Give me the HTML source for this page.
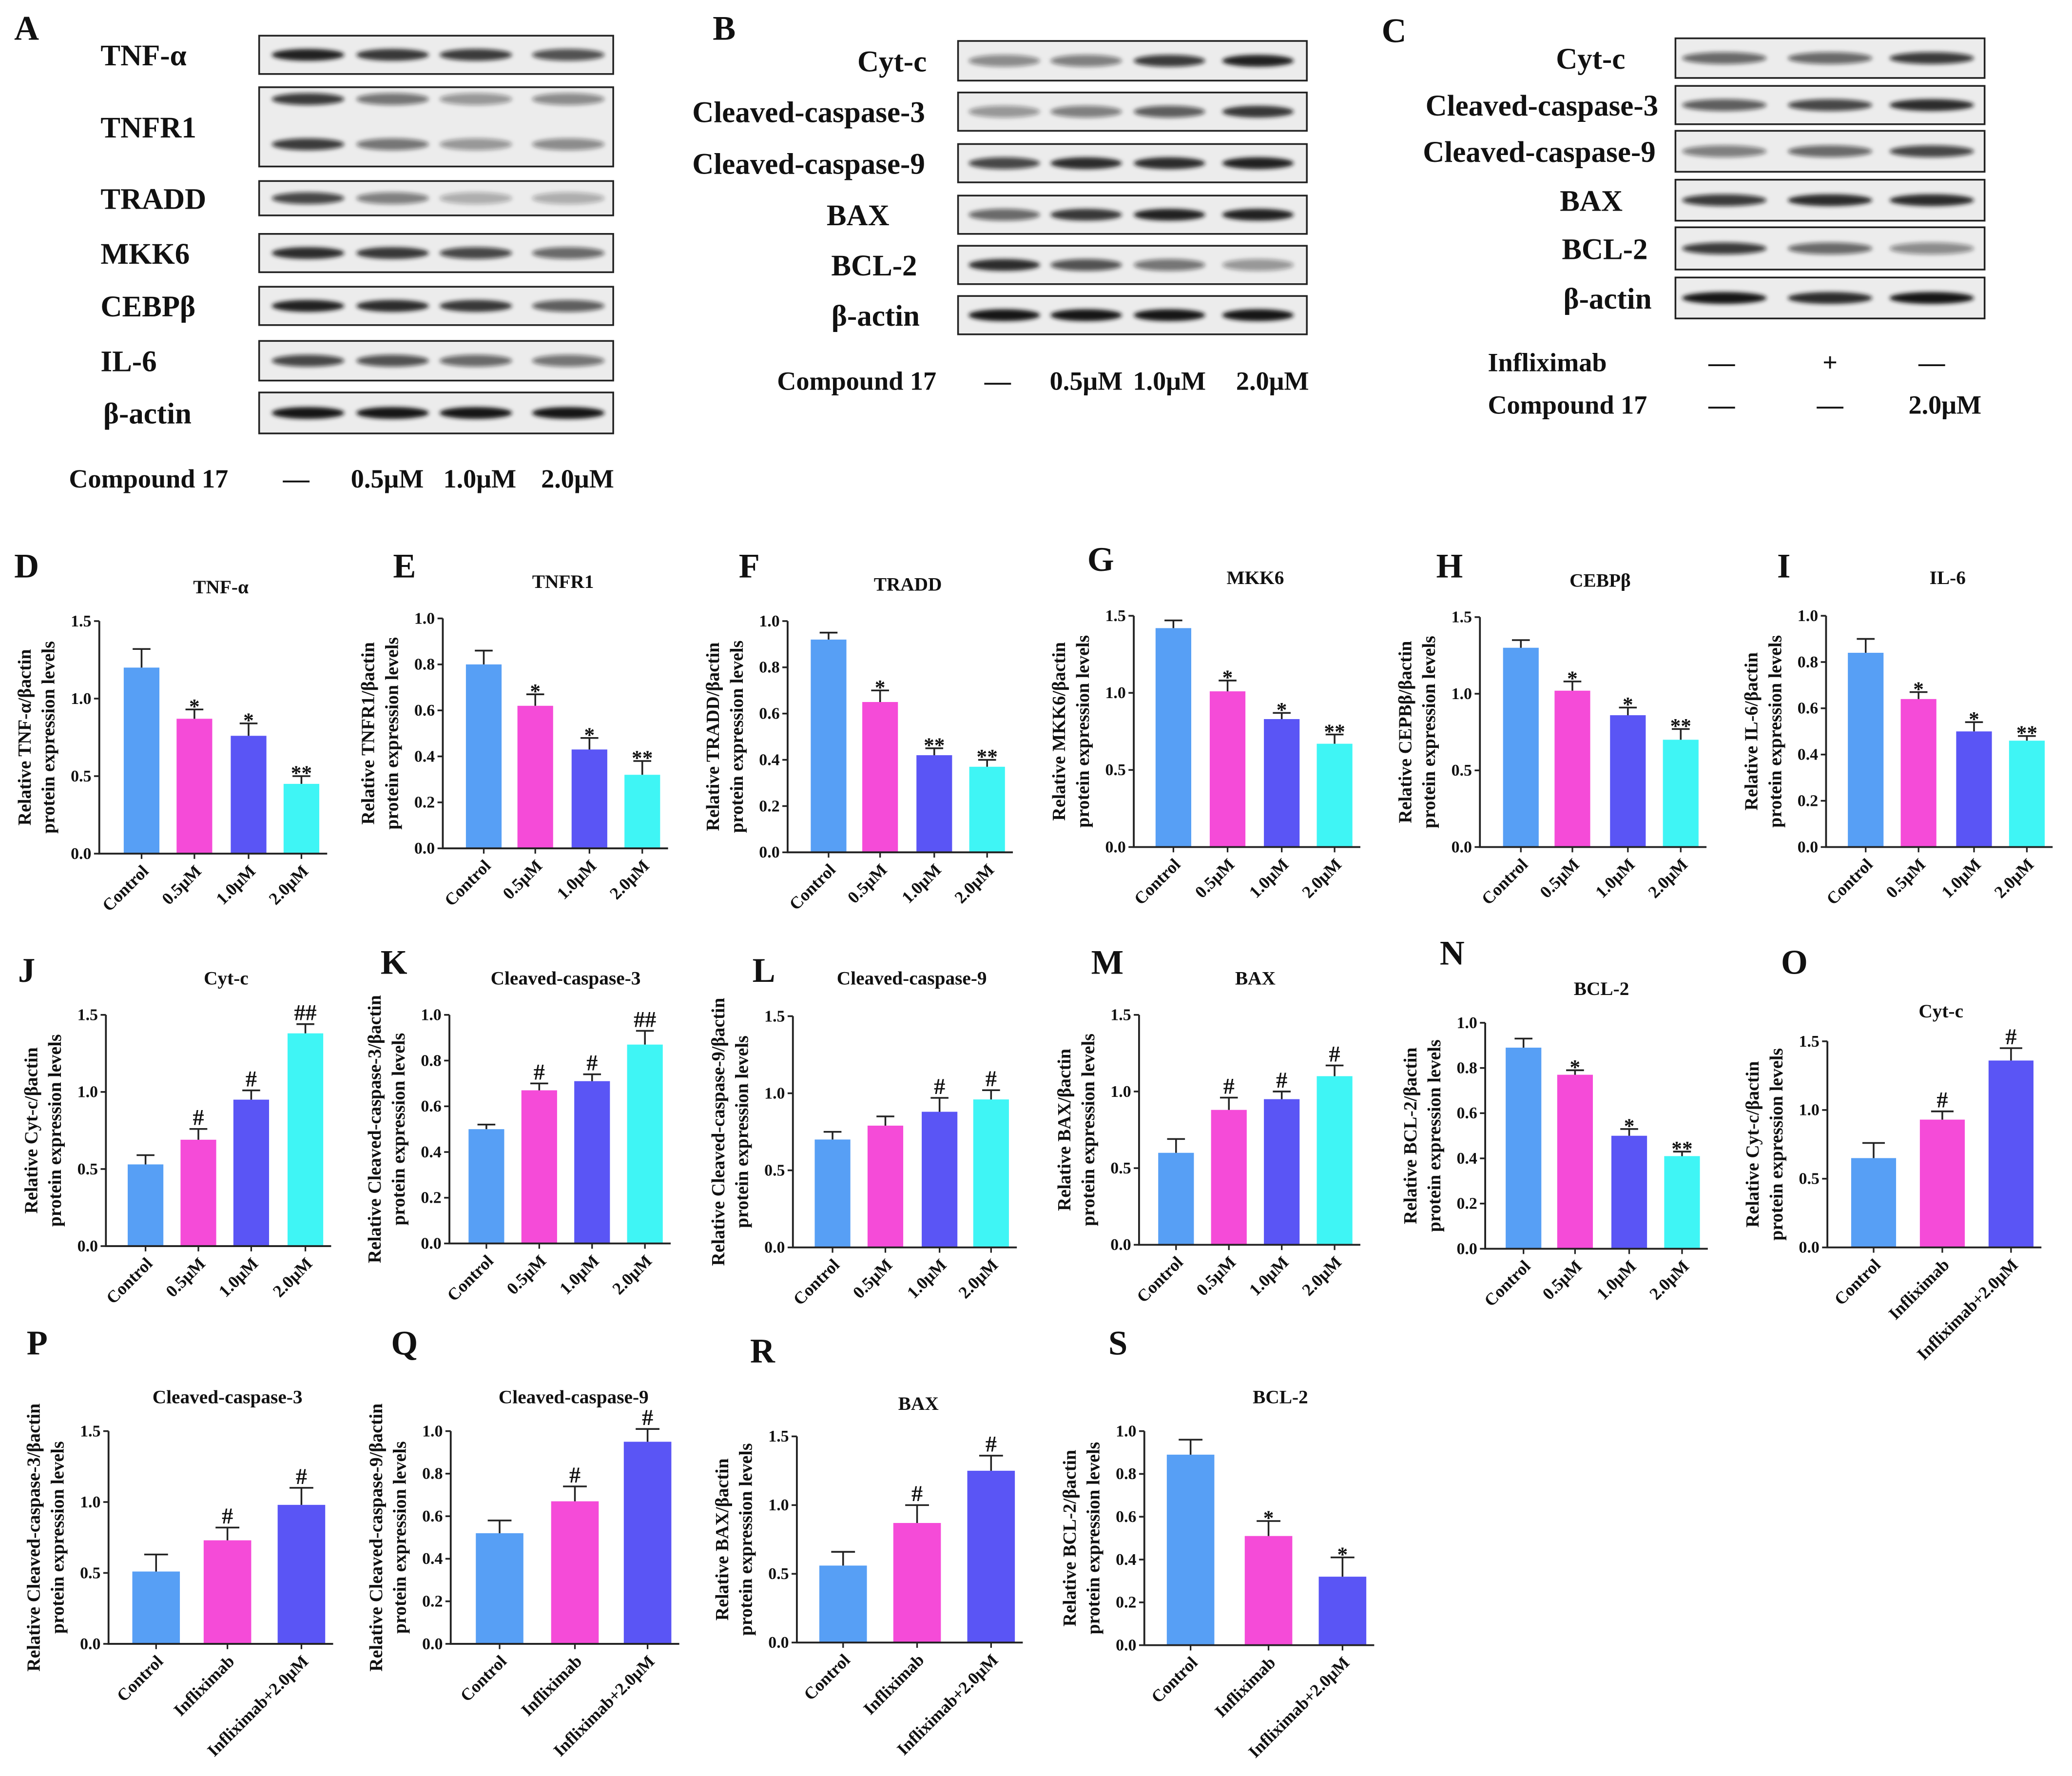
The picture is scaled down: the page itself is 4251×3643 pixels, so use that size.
<!DOCTYPE html>
<html><head><meta charset="utf-8">
<style>
html,body{margin:0;padding:0;background:#fff;}
svg{display:block;}
text{font-family:"Liberation Serif",serif;font-weight:bold;fill:#111;}
</style></head>
<body>
<svg id="fig" xmlns="http://www.w3.org/2000/svg" width="4251" height="3643" viewBox="0 0 1568 1344">
<defs>
<filter id="blur" x="-20%" y="-100%" width="140%" height="300%"><feGaussianBlur stdDeviation="1.6"/></filter>
</defs>
<rect width="1568" height="1344" fill="#fff"/>
<g id="blots"></g>
<g id="charts"></g>
</svg>
<script>
// ---------- chart data ----------
const catsDose = ["Control","0.5μM","1.0μM","2.0μM"];
const catsInf = ["Control","Infliximab","Infliximab+2.0μM"];
const ticks15 = [0,0.5,1.0,1.5];
const ticks10 = [0,0.2,0.4,0.6,0.8,1.0];

const valsD = [1.20,0.87,0.76,0.45]; const errD = [0.12,0.06,0.08,0.05]; const sigD = ["","*","*","**"];
const valsE = [0.80,0.62,0.43,0.32]; const errE = [0.06,0.05,0.05,0.06]; const sigE = ["","*","*","**"];
const valsF = [0.92,0.65,0.42,0.37]; const errF = [0.03,0.05,0.03,0.03]; const sigF = ["","*","**","**"];
const valsG = [1.42,1.01,0.83,0.67]; const errG = [0.05,0.07,0.04,0.06]; const sigG = ["","*","*","**"];
const valsH = [1.30,1.02,0.86,0.70]; const errH = [0.05,0.06,0.05,0.07]; const sigH = ["","*","*","**"];
const valsI = [0.84,0.64,0.50,0.46]; const errI = [0.06,0.03,0.04,0.02]; const sigI = ["","*","*","**"];
const valsJ = [0.53,0.69,0.95,1.38]; const errJ = [0.06,0.07,0.06,0.06]; const sigJ = ["","#","#","##"];
const valsK = [0.50,0.67,0.71,0.87]; const errK = [0.02,0.03,0.03,0.06]; const sigK = ["","#","#","##"];
const valsL = [0.70,0.79,0.88,0.96]; const errL = [0.05,0.06,0.09,0.06]; const sigL = ["","","#","#"];
const valsM = [0.60,0.88,0.95,1.10]; const errM = [0.09,0.08,0.05,0.07]; const sigM = ["","#","#","#"];
const valsN = [0.89,0.77,0.50,0.41]; const errN = [0.04,0.02,0.03,0.02]; const sigN = ["","*","*","**"];
const valsO = [0.65,0.93,1.36]; const errO = [0.11,0.06,0.09]; const sigO = ["","#","#"];
const valsP = [0.51,0.73,0.98]; const errP = [0.12,0.09,0.12]; const sigP = ["","#","#"];
const valsQ = [0.52,0.67,0.95]; const errQ = [0.06,0.07,0.06]; const sigQ = ["","#","#"];
const valsR = [0.56,0.87,1.25]; const errR = [0.10,0.13,0.11]; const sigR = ["","#","#"];
const valsS = [0.89,0.51,0.32]; const errS = [0.07,0.07,0.09]; const sigS = ["","*","*"];

const NS="http://www.w3.org/2000/svg";
const colors=["#579ff5","#f54bd8","#5a55f5","#3ff5f5"];
function mk(tag,attrs,parent){const e=document.createElementNS(NS,tag);for(const k in attrs)e.setAttribute(k,attrs[k]);parent.appendChild(e);return e;}
function txt(s,attrs,parent){const e=mk("text",attrs,parent);e.textContent=s;return e;}

const charts=[
 {id:"D",L:[20,427],title:"TNF-α",tp:[167,444],ax:75,bot:646,top:470,max:1.5,ticks:ticks15,cats:catsDose,v:valsD,e:errD,s:sigD,xs:[107,147,188,228],w:27,yl:"Relative TNF-α/βactin"},
 {id:"E",L:[306,427],title:"TNFR1",tp:[426,440],ax:335,bot:642,top:468,max:1.0,ticks:ticks10,cats:catsDose,v:valsE,e:errE,s:sigE,xs:[366,405,446,486],w:27,yl:"Relative TNFR1/βactin"},
 {id:"F",L:[567,427],title:"TRADD",tp:[687,442],ax:596,bot:645,top:470,max:1.0,ticks:ticks10,cats:catsDose,v:valsF,e:errF,s:sigF,xs:[627,666,707,747],w:27,yl:"Relative TRADD/βactin"},
 {id:"G",L:[833,422],title:"MKK6",tp:[950,437],ax:858,bot:641,top:466,max:1.5,ticks:ticks15,cats:catsDose,v:valsG,e:errG,s:sigG,xs:[888,929,970,1010],w:27,yl:"Relative MKK6/βactin"},
 {id:"H",L:[1097,427],title:"CEBPβ",tp:[1211,439],ax:1120,bot:641,top:467,max:1.5,ticks:ticks15,cats:catsDose,v:valsH,e:errH,s:sigH,xs:[1151,1190,1232,1272],w:27,yl:"Relative CEPBβ/βactin"},
 {id:"I",L:[1350,427],title:"IL-6",tp:[1474,437],ax:1382,bot:641,top:466,max:1.0,ticks:ticks10,cats:catsDose,v:valsI,e:errI,s:sigI,xs:[1412,1452,1494,1534],w:27,yl:"Relative IL-6/βactin"},
 {id:"J",L:[20,733],title:"Cyt-c",tp:[171,740],ax:80,bot:943,top:768,max:1.5,ticks:ticks15,cats:catsDose,v:valsJ,e:errJ,s:sigJ,xs:[110,150,190,231],w:27,yl:"Relative Cyt-c/βactin"},
 {id:"K",L:[298,727],title:"Cleaved-caspase-3",tp:[428,740],ax:340,bot:941,top:768,max:1.0,ticks:ticks10,cats:catsDose,v:valsK,e:errK,s:sigK,xs:[368,408,448,488],w:27,yl:"Relative Cleaved-caspase-3/βactin"},
 {id:"L",L:[578,733],title:"Cleaved-caspase-9",tp:[690,740],ax:600,bot:944,top:769,max:1.5,ticks:ticks15,cats:catsDose,v:valsL,e:errL,s:sigL,xs:[630,670,711,750],w:27,yl:"Relative Cleaved-caspase-9/βactin"},
 {id:"M",L:[838,727],title:"BAX",tp:[950,740],ax:862,bot:942,top:768,max:1.5,ticks:ticks15,cats:catsDose,v:valsM,e:errM,s:sigM,xs:[890,930,970,1010],w:27,yl:"Relative BAX/βactin"},
 {id:"N",L:[1099,720],title:"BCL-2",tp:[1212,748],ax:1124,bot:945,top:774,max:1.0,ticks:ticks10,cats:catsDose,v:valsN,e:errN,s:sigN,xs:[1153,1192,1233,1273],w:27,yl:"Relative BCL-2/βactin"},
 {id:"O",L:[1358,727],title:"Cyt-c",tp:[1469,765],ax:1383,bot:944,top:788,max:1.5,ticks:ticks15,cats:catsInf,v:valsO,e:errO,s:sigO,xs:[1418,1470,1522],w:34,yl:"Relative Cyt-c/βactin"},
 {id:"P",L:[28,1015],title:"Cleaved-caspase-3",tp:[172,1057],ax:82,bot:1244,top:1083,max:1.5,ticks:ticks15,cats:catsInf,v:valsP,e:errP,s:sigP,xs:[118,172,228],w:36,yl:"Relative Cleaved-caspase-3/βactin"},
 {id:"Q",L:[306,1015],title:"Cleaved-caspase-9",tp:[434,1057],ax:341,bot:1244,top:1083,max:1.0,ticks:ticks10,cats:catsInf,v:valsQ,e:errQ,s:sigQ,xs:[378,435,490],w:36,yl:"Relative Cleaved-caspase-9/βactin"},
 {id:"R",L:[577,1021],title:"BAX",tp:[695,1062],ax:603,bot:1243,top:1087,max:1.5,ticks:ticks15,cats:catsInf,v:valsR,e:errR,s:sigR,xs:[638,694,750],w:36,yl:"Relative BAX/βactin"},
 {id:"S",L:[846,1015],title:"BCL-2",tp:[969,1057],ax:866,bot:1245,top:1083,max:1.0,ticks:ticks10,cats:catsInf,v:valsS,e:errS,s:sigS,xs:[901,960,1016],w:36,yl:"Relative BCL-2/βactin"}
];

const CG=document.getElementById("charts");
charts.forEach(c=>{
  const g=mk("g",{},CG);
  
  
  const y=v=>c.bot-(v/c.max)*(c.bot-c.top);
  const pl=txt(c.id,{x:c.L[0],y:c.L[1]+10,"font-size":26,"text-anchor":"middle"},g);
  
  
  const t=txt(c.title,{x:c.tp[0],y:c.tp[1]+5,"font-size":14.5,"text-anchor":"middle"},g);
  
  
  const mid=(c.bot+c.top)/2;
  const yl1=txt(c.yl,{x:0,y:0,"font-size":14,"text-anchor":"middle",transform:`translate(${c.ax-52},${mid}) rotate(-90)`},g);
  
  
  const yl2=txt("protein expression levels",{x:0,y:0,"font-size":14,"text-anchor":"middle",transform:`translate(${c.ax-34},${mid}) rotate(-90)`},g);
  
  
  c.v.forEach((v,i)=>{
    const cx=c.xs[i];
    const b=mk("rect",{x:cx-c.w/2,y:y(v),width:c.w,height:c.bot-y(v),fill:colors[i]},g);
    
    
    const ey=y(v+c.e[i]);
    const el=mk("path",{d:`M${cx} ${y(v)}V${ey}M${cx-c.w/4} ${ey}H${cx+c.w/4}`,stroke:"#222","stroke-width":1.3,fill:"none"},g);
    
    
    if(c.s[i]){
      const st=txt(c.s[i],{x:cx,y:ey-3+(c.s[i].includes("*")?6:0),"font-size":c.s[i].includes("*")?16:17,"font-weight":"normal","text-anchor":"middle"},g);
      
      
    }
    const xl=txt(c.cats[i],{x:0,y:0,"font-size":13,"text-anchor":"end",transform:`translate(${cx+6},${c.bot+14}) rotate(-45)`},g);
    
    
  });
  const xEnd=c.xs[c.xs.length-1]+c.w/2+6;
  const axis=mk("path",{d:`M${c.ax} ${c.top}V${c.bot}H${xEnd}`,stroke:"#222","stroke-width":1.4,fill:"none"},g);
  
  
  c.ticks.forEach(tv=>{
    mk("line",{x1:c.ax-4,x2:c.ax,y1:y(tv),y2:y(tv),stroke:"#222","stroke-width":1.3},g);
    const tl=txt(tv.toFixed(1),{x:c.ax-6,y:y(tv)+4,"font-size":12.5,"text-anchor":"end"},g);
    
    
  });
  c.xs.forEach(cx=>mk("line",{x1:cx,x2:cx,y1:c.bot,y2:c.bot+4,stroke:"#222","stroke-width":1.2},g));
});

// ---------- blots ----------
const BG=document.getElementById("blots");
function blot(label,lx,anchor,x0,x1,y0,y1,lanes,ints,rows){
  const g=mk("g",{},BG);
  
  
  mk("rect",{x:x0,y:y0,width:x1-x0,height:y1-y0,fill:"#ececec",stroke:"#222","stroke-width":1.3},g);
  const lw=(x1-x0)/lanes.length*0.82;
  (rows||[0.5]).forEach(r=>{
    lanes.forEach((lc,i)=>{
      const a=ints[i];
      mk("ellipse",{cx:lc,cy:y0+(y1-y0)*r,rx:lw/2,ry:4.5,fill:`rgba(20,20,20,${a})`,filter:"url(#blur)"},g);
    });
  });
  const t=txt(label,{x:lx,y:(y0+y1)/2+8,"font-size":22.5,"text-anchor":anchor},g);
  
  
}
const lA=[233,297,360,430];
blot("TNF-α",76,"start",196,464,27,56,lA,[0.95,0.85,0.8,0.7]);
blot("TNFR1",76,"start",196,464,66,126,lA,[0.8,0.55,0.4,0.45],[0.15,0.72]);
blot("TRADD",76,"start",196,464,137,163,lA,[0.75,0.5,0.3,0.3]);
blot("MKK6",76,"start",196,464,177,206,lA,[0.9,0.85,0.75,0.6]);
blot("CEBPβ",76,"start",196,464,217,246,lA,[0.95,0.9,0.85,0.65]);
blot("IL-6",76,"start",196,464,258,288,lA,[0.75,0.7,0.6,0.55]);
blot("β-actin",78,"start",196,464,297,328,lA,[1,1,1,1]);
const lB=[760,822,885,952];
blot("Cyt-c",675,"middle",725,989,31,61,lB,[0.45,0.5,0.8,0.95]);
blot("Cleaved-caspase-3",700,"end",725,989,70,99,lB,[0.4,0.5,0.65,0.85]);
blot("Cleaved-caspase-9",700,"end",725,989,109,138,lB,[0.75,0.9,0.9,0.95]);
blot("BAX",673,"end",725,989,148,177,lB,[0.6,0.85,0.95,0.95]);
blot("BCL-2",694,"end",725,989,186,215,lB,[0.9,0.7,0.55,0.4]);
blot("β-actin",696,"end",725,989,224,253,lB,[1,1,1,1]);
const lC=[1305,1385,1462];
blot("Cyt-c",1230,"end",1268,1502,29,59,lC,[0.6,0.6,0.8]);
blot("Cleaved-caspase-3",1255,"end",1268,1502,65,94,lC,[0.65,0.75,0.9]);
blot("Cleaved-caspase-9",1253,"end",1268,1502,99,130,lC,[0.5,0.6,0.75]);
blot("BAX",1228,"end",1268,1502,136,167,lC,[0.8,0.9,0.9]);
blot("BCL-2",1247,"end",1268,1502,172,204,lC,[0.8,0.6,0.45]);
blot("β-actin",1250,"end",1268,1502,210,241,lC,[1,0.9,1]);

function label(s,x,y,size,anchor,name){const t=txt(s,{x:x,y:y,"font-size":size,"text-anchor":anchor||"start"},BG);
  
  }
label("A",20,30,26,"middle","panel-label-a");
label("B",548,30,26,"middle","panel-label-b");
label("C",1055,32,26,"middle","panel-label-c");
label("Compound 17",52,369,20,"start","treatment-label");
label("—",224,369,20,"middle","lane-label");label("0.5μM",293,369,20,"middle","lane-label");label("1.0μM",363,369,20,"middle","lane-label");label("2.0μM",437,369,20,"middle","lane-label");
label("Compound 17",588,295,20,"start","treatment-label");
label("—",755,295,20,"middle","lane-label");label("0.5μM",822,295,20,"middle","lane-label");label("1.0μM",885,295,20,"middle","lane-label");label("2.0μM",963,295,20,"middle","lane-label");
label("Infliximab",1126,281,20,"start","treatment-label");
label("—",1303,281,20,"middle","lane-label");label("+",1385,281,20,"middle","lane-label");label("—",1462,281,20,"middle","lane-label");
label("Compound 17",1126,313,20,"start","treatment-label");
label("—",1303,313,20,"middle","lane-label");label("—",1385,313,20,"middle","lane-label");label("2.0μM",1472,313,20,"middle","lane-label");
</script>
</body></html>
